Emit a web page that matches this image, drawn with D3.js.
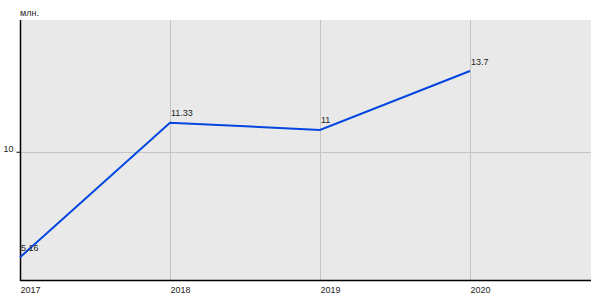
<!DOCTYPE html>
<html><head><meta charset="utf-8">
<script src="https://cdn.jsdelivr.net/npm/d3@7"></script>
<style>body{margin:0;background:#fff}svg{display:block}text{font-family:"Liberation Sans",Arial,sans-serif;fill:#222}</style>
</head><body>
<svg id="c" width="600" height="300"></svg>
<script>
const years = [2017, 2018, 2019, 2020];
const values = [5.16, 11.33, 11, 13.7];
const valueLabels = ["5.16", "11.33", "11", "13.7"];
const yTicks = [10];
const unitLabel = "млн.";

const svg = d3.select("#c");
const L = 20, R = 591, T = 20, B = 280;
const x = d3.scaleLinear().domain([2017, 2020.807]).range([L, R]);
const y = d3.scaleLinear().domain([4.12, 16.04]).range([B, T]);

svg.append("rect").attr("x", L).attr("y", T).attr("width", R - L).attr("height", B - T).attr("fill", "#e9e9e9");

// vertical grid
svg.selectAll(".vg").data(years.slice(1)).enter().append("line")
  .attr("x1", d => Math.round(x(d)) + 0.5).attr("x2", d => Math.round(x(d)) + 0.5)
  .attr("y1", T).attr("y2", B).attr("stroke", "#c4c4c4").attr("stroke-width", 1);
// horizontal grid
svg.selectAll(".hg").data(yTicks).enter().append("line")
  .attr("x1", L).attr("x2", R)
  .attr("y1", d => Math.round(y(d)) + 0.5).attr("y2", d => Math.round(y(d)) + 0.5)
  .attr("stroke", "#c4c4c4").attr("stroke-width", 1);

// y axis
const yAxis = d3.axisLeft(y).tickValues(yTicks).tickSize(4).tickPadding(3).tickFormat(d3.format("d"));
const gy = svg.append("g").attr("transform", `translate(${L + 0.5},0)`).call(yAxis);
gy.select(".domain").remove();
gy.selectAll(".tick line").attr("stroke", "#000");
gy.selectAll(".tick text").attr("font-size", 9).attr("dy", "-0.05em").attr("fill", "#222").style("font-family", "Liberation Sans, Arial, sans-serif");
svg.append("line").attr("x1", L + 0.5).attr("x2", L + 0.5).attr("y1", T).attr("y2", B + 1).attr("stroke", "#000").attr("stroke-width", 1.5);

// x axis
const xAxis = d3.axisBottom(x).tickValues(years).tickSize(0).tickPadding(0).tickFormat(d3.format("d"));
const gx = svg.append("g").attr("transform", `translate(0,${B})`).call(xAxis);
gx.select(".domain").remove();
gx.selectAll(".tick text").attr("font-size", 9).attr("text-anchor", "start").attr("y", 12.5).attr("dy", 0).attr("x", 0)
  .attr("fill", "#222").style("font-family", "Liberation Sans, Arial, sans-serif");
svg.append("line").attr("x1", L).attr("x2", R).attr("y1", B + 0.5).attr("y2", B + 0.5).attr("stroke", "#000").attr("stroke-width", 1.5);

// unit label
svg.append("text").attr("x", L).attr("y", 16).attr("font-size", 9).text(unitLabel);

// line
const pts = years.map((yr, i) => [yr, values[i]]);
svg.append("path").datum(pts)
  .attr("d", d3.line().x(d => x(d[0])).y(d => y(d[1])))
  .attr("fill", "none").attr("stroke", "#0346e0").attr("stroke-width", 2);

// value labels
svg.selectAll(".vl").data(pts).enter().append("text")
  .attr("x", d => x(d[0]) + 1).attr("y", d => y(d[1]) - 6.5)
  .attr("font-size", 9).text((d, i) => valueLabels[i]);
</script>
</body></html>
